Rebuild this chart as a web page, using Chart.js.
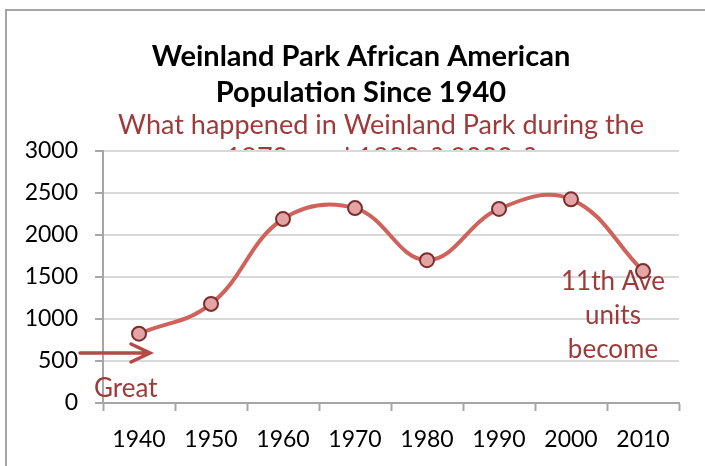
<!DOCTYPE html>
<html>
<head>
<meta charset="utf-8">
<script src="https://cdn.jsdelivr.net/npm/chart.js@4"></script>
<style>
  body { margin: 0; background: #fff; }
  #wrap { width: 705px; height: 466px; }
</style>
</head>
<body>
<div id="wrap"><canvas id="popChart" width="705" height="466"></canvas></div>
<script>
// values
const years = ['1940', '1950', '1960', '1970', '1980', '1990', '2000', '2010'];
const population = [825, 1180, 2190, 2320, 1700, 2310, 2425, 1570];
const yTicks = [0, 500, 1000, 1500, 2000, 2500, 3000];

const titleLines = ['Weinland Park African American', 'Population Since 1940'];
const questionLines = ['What happened in Weinland Park during the', '1970s and 1980s? 2000s?'];
const noteLines = ['11th Ave', 'units', 'become'];
const arrowNote = 'Great';

const textRed = '#9e3a3a';

// frame, titles and the question that the plot area covers
const decorPlugin = {
  id: 'decor',
  beforeDraw(chart) {
    const ctx = chart.ctx;
    const area = chart.chartArea;
    ctx.save();
    ctx.fillStyle = '#fff';
    ctx.fillRect(0, 0, chart.width, chart.height);

    ctx.strokeStyle = '#a5a5a5';
    ctx.lineWidth = 2;
    ctx.strokeRect(6, 10, chart.width + 20, chart.height + 20);

    ctx.fillStyle = '#000';
    ctx.font = 'bold 29px Lato';
    ctx.textAlign = 'center';
    ctx.textBaseline = 'alphabetic';
    ctx.fillText(titleLines[0], 361, 66);
    ctx.fillText(titleLines[1], 361, 102);

    ctx.fillStyle = textRed;
    ctx.font = '27px Lato';
    ctx.fillText(questionLines[0], 381, 134);
    ctx.fillText(questionLines[1], 381, 167);

    // plot area is opaque
    ctx.fillStyle = '#fff';
    ctx.fillRect(area.left, area.top, area.right - area.left, area.bottom - area.top);
    ctx.restore();
  },
  beforeDatasetsDraw(chart) {
    const ctx = chart.ctx;
    ctx.save();
    ctx.fillStyle = textRed;
    ctx.font = '26px Lato';
    ctx.textAlign = 'center';
    ctx.textBaseline = 'alphabetic';
    noteLines.forEach((t, i) => ctx.fillText(t, 613, 290 + i * 34));

    ctx.textAlign = 'left';
    ctx.fillText(arrowNote, 94, 397);

    // arrow
    ctx.strokeStyle = '#b24a45';
    ctx.lineWidth = 3.5;
    ctx.lineCap = 'round';
    ctx.beginPath();
    ctx.moveTo(80, 353);
    ctx.lineTo(150, 353);
    ctx.moveTo(131, 344);
    ctx.lineTo(150, 353);
    ctx.lineTo(131, 362);
    ctx.stroke();
    ctx.restore();
  }
};

const ctx = document.getElementById('popChart').getContext('2d');
const popChart = new Chart(ctx, {
  type: 'line',
  data: {
    labels: years,
    datasets: [{
      label: 'Population',
      data: population,
      borderColor: '#d0625c',
      borderWidth: 4,
      tension: 0.4,
      pointRadius: 7,
      pointBorderWidth: 2,
      pointBackgroundColor: '#e4a4a3',
      pointBorderColor: '#7a2e2e',
      clip: false
    }]
  },
  options: {
    responsive: false,
    animation: false,
    layout: { padding: { top: 151, right: 26, bottom: 0, left: 0 } },
    plugins: {
      legend: { display: false },
      tooltip: { enabled: false }
    },
    scales: {
      x: {
        offset: true,
        grid: {
          offset: true,
          drawOnChartArea: false,
          tickLength: 8,
          tickColor: '#a6a6a6',
          tickWidth: 2
        },
        border: { color: '#a6a6a6', width: 2 },
        ticks: {
          color: '#000',
          font: { family: 'Lato', size: 23 },
          padding: 15,
          maxRotation: 0
        },
        afterFit(scale) { scale.height = 63; }
      },
      y: {
        min: 0,
        max: 3000,
        afterBuildTicks(scale) { scale.ticks = yTicks.map(v => ({ value: v })); },
        grid: {
          color: '#d9d9d9',
          lineWidth: 2,
          tickLength: 8,
          tickColor: '#a6a6a6',
          tickWidth: 2
        },
        border: { color: '#a6a6a6', width: 2 },
        ticks: {
          color: '#000',
          font: { family: 'Lato', size: 23 },
          padding: 17,
          callback: (value) => String(value)
        },
        afterFit(scale) { scale.width = 103; }
      }
    }
  },
  plugins: [decorPlugin]
});
</script>
</body>
</html>
